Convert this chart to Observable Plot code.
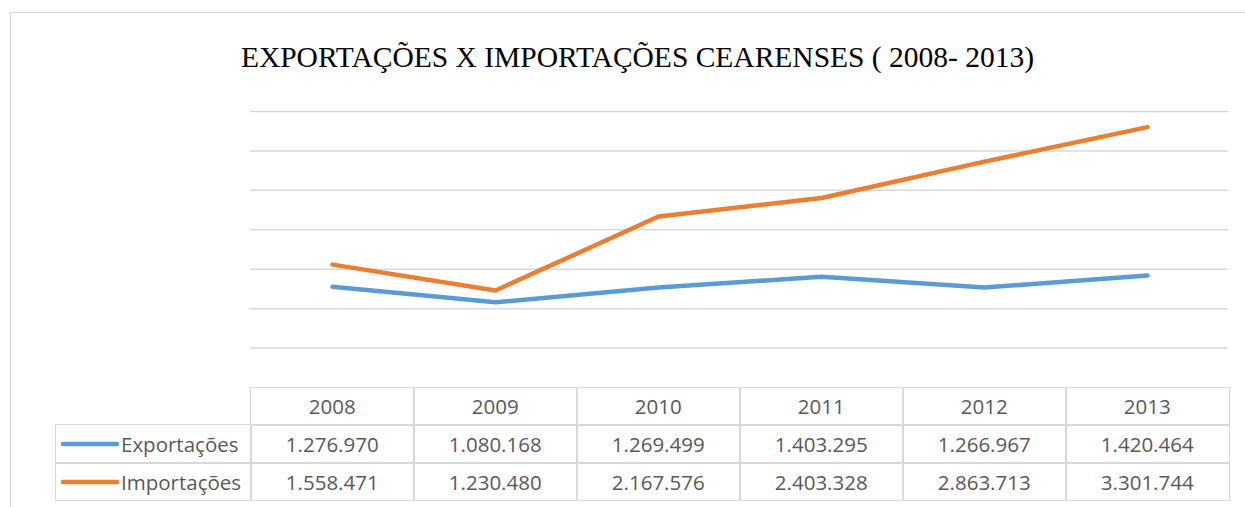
<!DOCTYPE html>
<html><head><meta charset="utf-8">
<script src="https://cdn.jsdelivr.net/npm/d3@7"></script>
<script src="https://cdn.jsdelivr.net/npm/@observablehq/plot@0.6"></script>
<style>
html,body{margin:0;padding:0;background:#fff}
body{width:1245px;height:507px;overflow:hidden;position:relative;font-family:"Open Sans",sans-serif}
#frame{position:absolute;left:10px;top:12px;width:1260px;height:600px;border:1.5px solid #d9d9d9;box-sizing:border-box}
#title{position:absolute;left:0;width:1275px;top:43px;line-height:29px;text-align:center;font-family:"Liberation Serif","Times New Roman",serif;font-size:29.5px;color:#000;white-space:nowrap}
#chart{position:absolute;left:0;top:90px}
.cell{position:absolute;box-sizing:border-box;border:1.5px solid #d9d9d9;color:#595959;font-size:20.5px;display:flex;align-items:center;justify-content:center;white-space:nowrap}
.leg{justify-content:flex-start}
</style></head>
<body>
<div id="frame"></div>
<div id="title">EXPORTAÇÕES X IMPORTAÇÕES CEARENSES ( 2008- 2013)</div>
<div id="chart"></div>
<div id="table"></div>
<script>
const years = ["2008","2009","2010","2011","2012","2013"];
const series = ["Exportações","Importações"];
const colors = ["#5B9BD5","#ED7D31"];
const exportacoes = [1276970,1080168,1269499,1403295,1266967,1420464];
const importacoes = [1558471,1230480,2167576,2403328,2863713,3301744];
const gridTicks = [500000,1000000,1500000,2000000,2500000,3000000,3500000];

const values = {"Exportações": exportacoes, "Importações": importacoes};
const data = series.flatMap(s => years.map((y,i) => ({serie:s, year:y, value:values[s][i]})));

const chart = Plot.plot({
  width:1245, height:298,
  marginTop:21, marginBottom:1, marginLeft:250, marginRight:17,
  x:{type:"point", domain:years, padding:0.5, axis:null},
  y:{domain:[0,3500000], axis:null},
  color:{domain:series, range:colors},
  marks:[
    Plot.ruleY(gridTicks, {stroke:"#d9d9d9", strokeWidth:1.5}),
    Plot.line(data, {x:"year", y:"value", z:"serie", stroke:"serie", strokeWidth:4.5, strokeLinecap:"round", strokeLinejoin:"round"})
  ]
});
document.getElementById("chart").appendChild(chart);

// data table under the chart, aligned with the x scale
const xs = chart.scale("x");
const step = (xs.range[1]-xs.range[0])/years.length;
const fmt = d3.formatLocale({thousands:".", grouping:[3], decimal:",", currency:["",""]}).format(",d");
const tbl = d3.select("#table");
const top0 = 386.5, rowH = 37.8, legLeft = 55;
const tableLeft = xs.range[0];
years.forEach((y,i) => {
  tbl.append("div").attr("class","cell")
    .style("left",(tableLeft+i*step)+"px").style("top",top0+"px")
    .style("width",(step+1.5)+"px").style("height",(rowH+1.5)+"px").text(y);
});
series.forEach((s,r) => {
  const top = top0 + (r+1)*rowH;
  const leg = tbl.append("div").attr("class","cell leg")
    .style("left",legLeft+"px").style("top",top+"px")
    .style("width",(tableLeft-legLeft+1.5)+"px").style("height",(rowH+1.5)+"px");
  leg.append("svg").attr("width",62).attr("height",10).style("margin-left","3px").style("flex","none")
    .append("line").attr("x1",4).attr("x2",58).attr("y1",5).attr("y2",5)
    .attr("stroke",colors[r]).attr("stroke-width",4.5).attr("stroke-linecap","round");
  leg.append("span").text(s);
  years.forEach((y,i) => {
    tbl.append("div").attr("class","cell")
      .style("left",(tableLeft+i*step)+"px").style("top",top+"px")
      .style("width",(step+1.5)+"px").style("height",(rowH+1.5)+"px").text(fmt(values[s][i]));
  });
});
</script>
</body></html>
